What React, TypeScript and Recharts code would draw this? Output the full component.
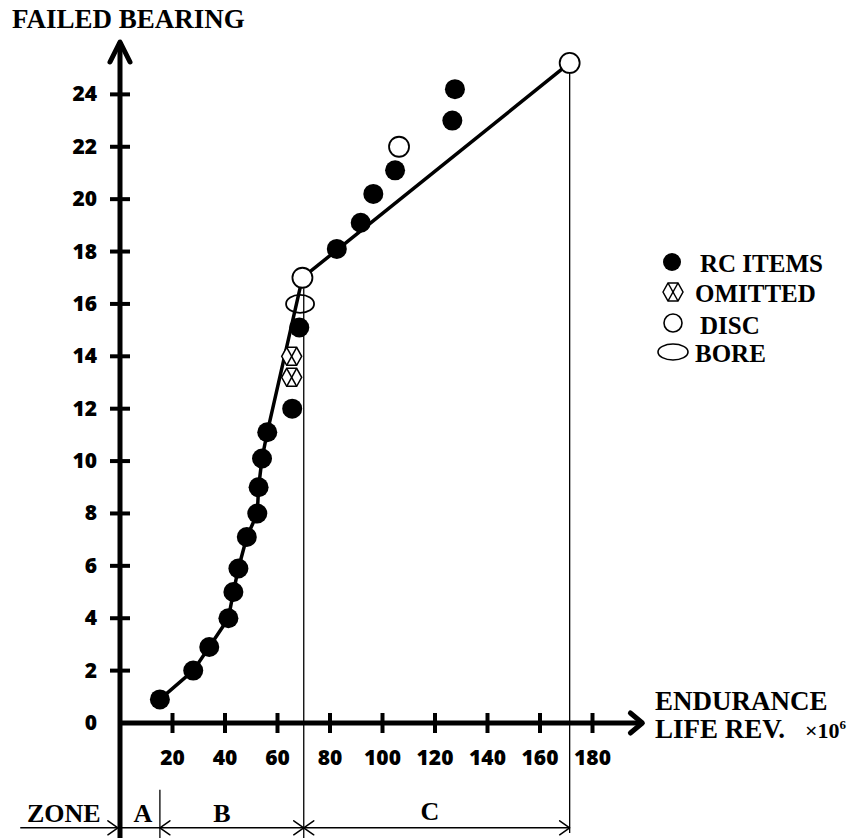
import { ScatterChart, Scatter, XAxis, YAxis, ReferenceLine } from 'recharts';

// endurance life (rev x10^6) / failed bearing number
const rcX = [15.2, 27.9, 34, 41.3, 43.2, 45.1, 48.3, 52.3, 52.8, 54.1, 56.1, 65.6, 68.3, 82.6, 91.7, 96.5, 104.8, 126.6, 127.6];
const rcY = [0.9, 2, 2.9, 4, 5, 5.9, 7.1, 8, 9, 10.1, 11.1, 12, 15.1, 18.1, 19.1, 20.2, 21.1, 23, 24.2];
const omittedX = [65.4, 65.4];
const omittedY = [14, 13.2];
const discX = [69.5, 106.3, 171.3];
const discY = [17, 22, 25.2];
const boreX = [68.6];
const boreY = [16];
// hand drawn fit line
const fitX = [15.2, 27.9, 34, 41.3, 43.2, 45.1, 48.3, 52.3, 52.8, 54.1, 56.1, 69.5, 171.3];
const fitY = [0.9, 2, 2.9, 4, 5, 5.9, 7.1, 8, 9, 10.1, 11.1, 17, 25.2];

const xTicks = [20, 40, 60, 80, 100, 120, 140, 160, 180];
const yTicks = [0, 2, 4, 6, 8, 10, 12, 14, 16, 18, 20, 22, 24];
const zoneEdges = [15.2, 70, 171.3];

const pts = (xs: number[], ys: number[]) => xs.map((x, i) => ({ x, y: ys[i] }));

const SERIF = '"Liberation Serif", "Times New Roman", serif';
const SANS = '"Open Sans", sans-serif';

const FilledDot = (p: any) => <circle cx={p.cx} cy={p.cy} r={10} fill="#000" />;
const OpenDot = (p: any) => <circle cx={p.cx} cy={p.cy} r={10} fill="#fff" stroke="#000" strokeWidth={1.8} />;
const BoreMark = (p: any) => <ellipse cx={p.cx} cy={p.cy} rx={14} ry={9} fill="none" stroke="#000" strokeWidth={1.8} />;
const HexMark = (p: any) => {
  const { cx, cy } = p;
  const poly = `${cx - 10},${cy} ${cx - 5},${cy - 9} ${cx + 5},${cy - 9} ${cx + 10},${cy} ${cx + 5},${cy + 9} ${cx - 5},${cy + 9}`;
  return (
    <g stroke="#000" strokeWidth={1.5}>
      <polygon points={poly} fill="#fff" />
      <line x1={cx - 5} y1={cy - 9} x2={cx + 5} y2={cy + 9} />
      <line x1={cx + 5} y1={cy - 9} x2={cx - 5} y2={cy + 9} />
    </g>
  );
};
const NoDot = () => <g />;

const chevron = (tx: number, ty: number, fx: number, fy: number, len: number, half: number) => {
  const dx = tx - fx, dy = ty - fy;
  const d = Math.hypot(dx, dy) || 1;
  const ux = dx / d, uy = dy / d;
  const bx = tx - ux * len, by = ty - uy * len;
  const px = -uy * half, py = ux * half;
  return `M${bx + px},${by + py} L${tx},${ty} L${bx - px},${by - py}`;
};

const arrowLine = (start: boolean, end: boolean, len: number, half: number, sw: number) => (p: any) => {
  const { x1, y1, x2, y2 } = p;
  return (
    <g fill="none" stroke="#000" strokeWidth={sw} strokeLinejoin="round" strokeLinecap="round">
      <line x1={x1} y1={y1} x2={x2} y2={y2} strokeLinecap="butt" />
      {start && <path d={chevron(x1, y1, x2, y2, len, half)} />}
      {end && <path d={chevron(x2, y2, x1, y1, len, half)} />}
    </g>
  );
};

const XTick = (p: any) => (
  <g>
    <line x1={p.x} y1={p.y - 10} x2={p.x} y2={p.y + 10} stroke="#000" strokeWidth={4} />
    <text x={p.x} y={p.y + 42} textAnchor="middle" fontFamily={SANS} fontWeight={800} fontSize={21} fill="#000">
      {p.payload.value}
    </text>
  </g>
);

const YTick = (p: any) => (
  <g>
    {p.payload.value !== 0 && <line x1={p.x - 10} y1={p.y} x2={p.x + 10} y2={p.y} stroke="#000" strokeWidth={4} />}
    <text x={p.x - 23} y={p.y + 7} textAnchor="end" fontFamily={SANS} fontWeight={800} fontSize={21} fill="#000">
      {p.payload.value}
    </text>
  </g>
);

const hexLegend = (cx: number, cy: number) => HexMark({ cx, cy });

export default function App() {
  const [a, b, c] = zoneEdges;
  const zy = -4;
  return (
    <div style={{ position: 'absolute', left: 0, top: 0, width: 858, height: 838, background: '#fff' }}>
      <ScatterChart width={858} height={838} margin={{ top: 42, right: 213, bottom: 75, left: 60 }}>
        <XAxis type="number" dataKey="x" domain={[0, 200]} ticks={xTicks} interval={0} height={40}
          axisLine={false} tickLine={false} tickSize={0} tickMargin={0} tick={XTick} allowDataOverflow />
        <YAxis type="number" dataKey="y" domain={[0, 26]} ticks={yTicks} interval={0} width={60}
          axisLine={false} tickLine={false} tickSize={0} tickMargin={0} tick={YTick} allowDataOverflow />

        {/* guide lines and zones */}
        <ReferenceLine segment={[{ x: c, y: 24.82 }, { x: c, y: -4.2 }]} ifOverflow="visible" shape={arrowLine(false, false, 0, 0, 1.3)} />
        <ReferenceLine segment={[{ x: b, y: 16.6 }, { x: b, y: -4.4 }]} ifOverflow="visible" shape={arrowLine(false, false, 0, 0, 1.3)} />
        <ReferenceLine segment={[{ x: a, y: -2.55 }, { x: a, y: -4.4 }]} ifOverflow="visible" shape={arrowLine(false, false, 0, 0, 1.3)} />
        <ReferenceLine segment={[{ x: -38, y: zy }, { x: -0.8, y: zy }]} ifOverflow="visible" shape={arrowLine(false, true, 10, 7, 1.5)} />
        <ReferenceLine segment={[{ x: 0, y: zy }, { x: a, y: zy }]} ifOverflow="visible" shape={arrowLine(false, false, 0, 0, 1.5)} />
        <ReferenceLine segment={[{ x: a, y: zy }, { x: b, y: zy }]} ifOverflow="visible" shape={arrowLine(true, true, 10, 7, 1.5)} />
        <ReferenceLine segment={[{ x: b, y: zy }, { x: c, y: zy }]} ifOverflow="visible" shape={arrowLine(true, true, 10, 7, 1.5)} />

        {/* axes with arrows */}
        <ReferenceLine segment={[{ x: 0, y: -4.4 }, { x: 0, y: 26 }]} ifOverflow="visible" shape={arrowLine(false, true, 20, 10, 5)} />
        <ReferenceLine segment={[{ x: 0, y: 0 }, { x: 199, y: 0 }]} ifOverflow="visible" shape={arrowLine(false, true, 12, 10, 5)} />

        <Scatter data={pts(fitX, fitY)} line={{ stroke: '#000', strokeWidth: 3.5 }} shape={NoDot} isAnimationActive={false} />
        <Scatter data={pts(rcX, rcY)} shape={FilledDot} isAnimationActive={false} />
        <Scatter data={pts(omittedX, omittedY)} shape={HexMark} isAnimationActive={false} />
        <Scatter data={pts(boreX, boreY)} shape={BoreMark} isAnimationActive={false} />
        <Scatter data={pts(discX, discY)} shape={OpenDot} isAnimationActive={false} />
      </ScatterChart>

      <svg width={858} height={838} style={{ position: 'absolute', left: 0, top: 0, pointerEvents: 'none' }}>
        <g fontFamily={SERIF} fontWeight={700} fontSize={27} fill="#000">
          <text x={12} y={28}>FAILED BEARING</text>
          <text x={655} y={710}>ENDURANCE</text>
          <text x={655} y={738}>LIFE REV.</text>
          <text x={27} y={822} fontSize={26}>ZONE</text>
          <text x={143} y={822} textAnchor="middle" fontSize={26}>A</text>
          <text x={222} y={822} textAnchor="middle" fontSize={26}>B</text>
          <text x={430} y={820} textAnchor="middle" fontSize={26}>C</text>
          <text x={700} y={272} fontSize={25}>RC ITEMS</text>
          <text x={695} y={302} fontSize={25}>OMITTED</text>
          <text x={700} y={334} fontSize={25}>DISC</text>
          <text x={695} y={362} fontSize={25}>BORE</text>
          <text x={805} y={738} fontSize={22}>
            ×10<tspan dy={-9} fontSize={13}>6</tspan>
          </text>
        </g>
        <circle cx={672} cy={262} r={9} fill="#000" />
        {hexLegend(673, 292)}
        <circle cx={673} cy={323} r={9} fill="#fff" stroke="#000" strokeWidth={1.6} />
        <ellipse cx={673} cy={352} rx={15} ry={8} fill="none" stroke="#000" strokeWidth={1.6} />
      </svg>
    </div>
  );
}
